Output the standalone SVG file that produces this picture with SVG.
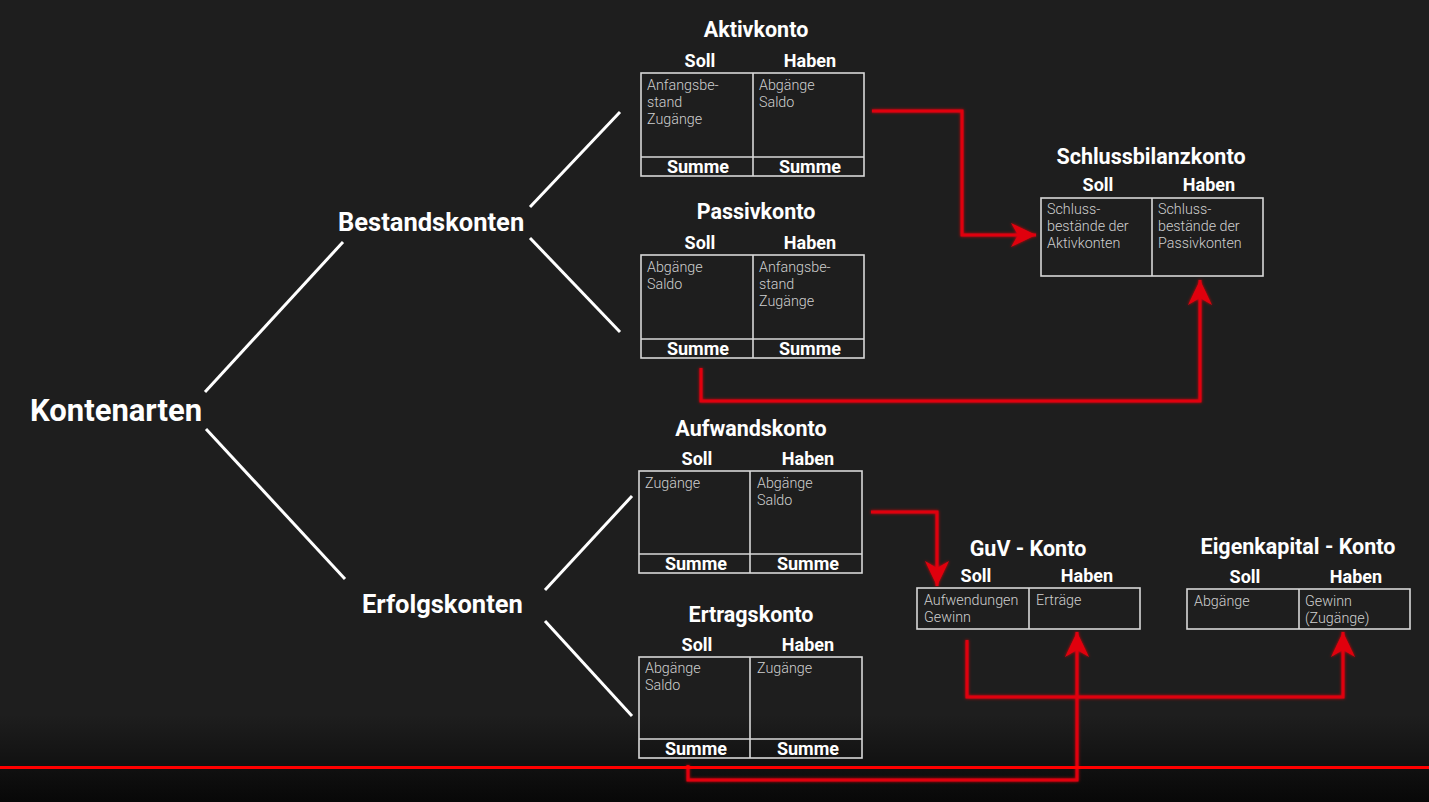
<svg xmlns="http://www.w3.org/2000/svg" width="1429" height="802" viewBox="0 0 1429 802">
<defs>
<linearGradient id="bot" x1="0" y1="0" x2="0" y2="1">
<stop offset="0" stop-color="#1e1e1e"/>
<stop offset="1" stop-color="#080808"/>
</linearGradient>
<filter id="glow" x="-20%" y="-20%" width="140%" height="140%">
<feGaussianBlur stdDeviation="1.5" result="b"/>
<feMerge><feMergeNode in="b"/><feMergeNode in="SourceGraphic"/></feMerge>
</filter>
<marker id="arr" markerUnits="userSpaceOnUse" markerWidth="26" markerHeight="26" viewBox="0 0 26 24" refX="25" refY="12" orient="auto">
<path d="M0,0 L25,12 L0,24 L7,12 z" fill="#e0000f"/>
</marker>
</defs>
<style>
.title{font-family:Roboto,"Liberation Sans",sans-serif;font-weight:700;font-size:21.5px;fill:#ffffff;text-anchor:middle}
.big{font-family:Roboto,"Liberation Sans",sans-serif;font-weight:700;fill:#ffffff}
.col{font-family:Roboto,"Liberation Sans",sans-serif;font-weight:700;font-size:18px;fill:#ffffff;text-anchor:middle}
.cell{font-family:Roboto,"Liberation Sans",sans-serif;font-weight:300;font-size:14.3px;fill:#cfcfcf}
.box{fill:none;stroke:#d8d8d8;stroke-width:1.6}
.tree{stroke:#ffffff;stroke-width:3;fill:none}
.red{stroke:#e0000f;stroke-width:3;fill:none;stroke-linejoin:miter}
</style>
<rect x="0" y="0" width="1429" height="802" fill="#1e1e1e"/>
<rect x="0" y="715" width="1429" height="87" fill="url(#bot)"/>

<g id="connectors">
<g class="tree-lines">
<line class="tree" x1="205" y1="392" x2="343" y2="242"/>
<line class="tree" x1="206" y1="429" x2="345" y2="579"/>
<line class="tree" x1="530" y1="207" x2="620" y2="112"/>
<line class="tree" x1="530" y1="238" x2="620" y2="332"/>
<line class="tree" x1="545" y1="590" x2="632" y2="496"/>
<line class="tree" x1="545" y1="621" x2="632" y2="716"/>
</g>
<g filter="url(#glow)">
<polyline class="red" points="872,111 962,111 962,235 1036,235" marker-end="url(#arr)"/>
<polyline class="red" points="701,368 701,401 1200,401 1200,280" marker-end="url(#arr)"/>
<polyline class="red" points="871,512 937,512 937,586" marker-end="url(#arr)"/>
<polyline class="red" points="688,765 688,780 1077,780 1077,632" marker-end="url(#arr)"/>
<polyline class="red" points="967,640 967,697 1343,697 1343,632" marker-end="url(#arr)"/>
</g>
</g>

<g id="kontenarten"><text class="big" x="30" y="421" font-size="31">Kontenarten</text></g>
<g id="bestandskonten"><text class="big" x="338" y="231" font-size="25.5">Bestandskonten</text></g>
<g id="erfolgskonten"><text class="big" x="362" y="613" font-size="25.5">Erfolgskonten</text></g>

<g id="aktivkonto">
<text class="title" x="756" y="37">Aktivkonto</text>
<text class="col" x="700" y="67">Soll</text>
<text class="col" x="810" y="67">Haben</text>
<rect class="box" x="641" y="73" width="223" height="103"/>
<line class="box" x1="753" y1="73" x2="753" y2="176"/>
<line class="box" x1="641" y1="157" x2="864" y2="157"/>
<text class="cell" x="647" y="90">Anfangsbe-</text>
<text class="cell" x="647" y="107">stand</text>
<text class="cell" x="647" y="124">Zugänge</text>
<text class="cell" x="759" y="90">Abgänge</text>
<text class="cell" x="759" y="107">Saldo</text>
<text class="col" x="698" y="173">Summe</text>
<text class="col" x="810" y="173">Summe</text>
</g>

<g id="passivkonto">
<text class="title" x="756" y="219">Passivkonto</text>
<text class="col" x="700" y="249">Soll</text>
<text class="col" x="810" y="249">Haben</text>
<rect class="box" x="641" y="255" width="223" height="103"/>
<line class="box" x1="753" y1="255" x2="753" y2="358"/>
<line class="box" x1="641" y1="339" x2="864" y2="339"/>
<text class="cell" x="647" y="272">Abgänge</text>
<text class="cell" x="647" y="289">Saldo</text>
<text class="cell" x="759" y="272">Anfangsbe-</text>
<text class="cell" x="759" y="289">stand</text>
<text class="cell" x="759" y="306">Zugänge</text>
<text class="col" x="698" y="355">Summe</text>
<text class="col" x="810" y="355">Summe</text>
</g>

<g id="aufwandskonto">
<text class="title" x="751" y="436">Aufwandskonto</text>
<text class="col" x="697" y="465">Soll</text>
<text class="col" x="808" y="465">Haben</text>
<rect class="box" x="639" y="471" width="223" height="102"/>
<line class="box" x1="750" y1="471" x2="750" y2="573"/>
<line class="box" x1="639" y1="554" x2="862" y2="554"/>
<text class="cell" x="645" y="488">Zugänge</text>
<text class="cell" x="757" y="488">Abgänge</text>
<text class="cell" x="757" y="505">Saldo</text>
<text class="col" x="696" y="570">Summe</text>
<text class="col" x="808" y="570">Summe</text>
</g>

<g id="ertragskonto">
<text class="title" x="751" y="622">Ertragskonto</text>
<text class="col" x="697" y="651">Soll</text>
<text class="col" x="808" y="651">Haben</text>
<rect class="box" x="639" y="657" width="223" height="101"/>
<line class="box" x1="750" y1="657" x2="750" y2="758"/>
<line class="box" x1="639" y1="739" x2="862" y2="739"/>
<text class="cell" x="645" y="673">Abgänge</text>
<text class="cell" x="645" y="690">Saldo</text>
<text class="cell" x="757" y="673">Zugänge</text>
<text class="col" x="696" y="755">Summe</text>
<text class="col" x="808" y="755">Summe</text>
</g>

<g id="schlussbilanzkonto">
<text class="title" x="1151" y="164">Schlussbilanzkonto</text>
<text class="col" x="1098" y="191">Soll</text>
<text class="col" x="1209" y="191">Haben</text>
<rect class="box" x="1041" y="198" width="222" height="78"/>
<line class="box" x1="1152" y1="198" x2="1152" y2="276"/>
<text class="cell" x="1047" y="214">Schluss-</text>
<text class="cell" x="1047" y="231">bestände der</text>
<text class="cell" x="1047" y="248">Aktivkonten</text>
<text class="cell" x="1158" y="214">Schluss-</text>
<text class="cell" x="1158" y="231">bestände der</text>
<text class="cell" x="1158" y="248">Passivkonten</text>
</g>

<g id="guv-konto">
<text class="title" x="1028" y="556">GuV - Konto</text>
<text class="col" x="976" y="582">Soll</text>
<text class="col" x="1087" y="582">Haben</text>
<rect class="box" x="917" y="588" width="223" height="41"/>
<line class="box" x1="1029" y1="588" x2="1029" y2="629"/>
<text class="cell" x="924" y="605">Aufwendungen</text>
<text class="cell" x="924" y="622">Gewinn</text>
<text class="cell" x="1036" y="605">Erträge</text>
</g>

<g id="eigenkapital-konto">
<text class="title" x="1298" y="554">Eigenkapital - Konto</text>
<text class="col" x="1245" y="583">Soll</text>
<text class="col" x="1356" y="583">Haben</text>
<rect class="box" x="1187" y="589" width="223" height="40"/>
<line class="box" x1="1299" y1="589" x2="1299" y2="629"/>
<text class="cell" x="1194" y="606">Abgänge</text>
<text class="cell" x="1305" y="606">Gewinn</text>
<text class="cell" x="1305" y="623">(Zugänge)</text>
</g>

<rect id="progress-bar" x="0" y="766" width="1429" height="3" fill="#ff0000"/>
</svg>
